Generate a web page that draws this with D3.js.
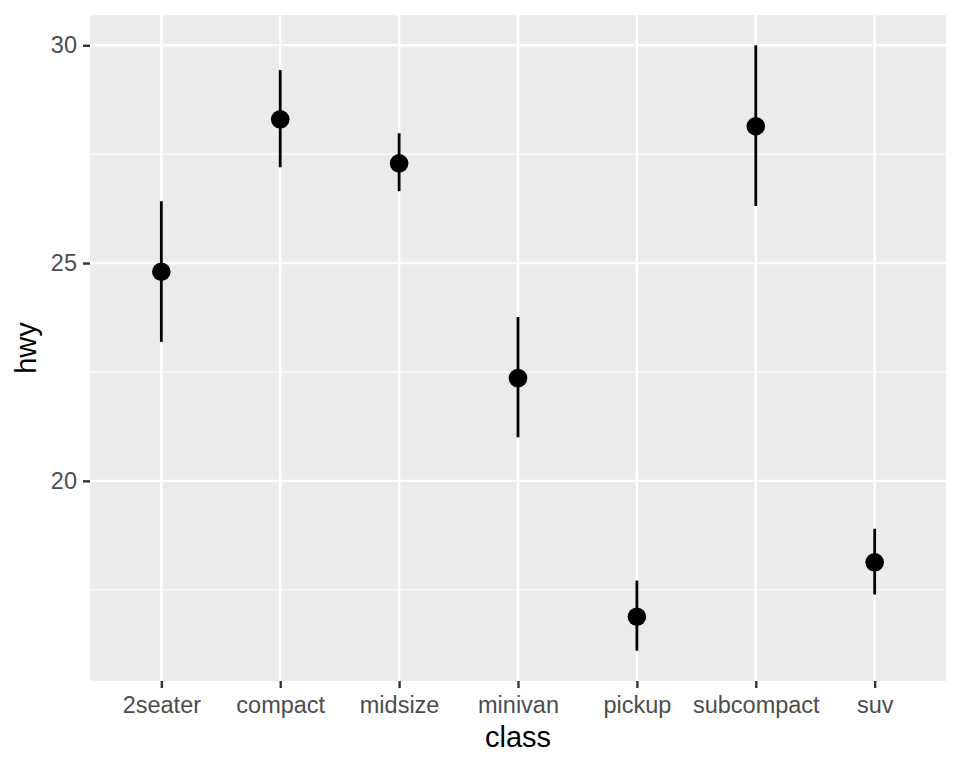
<!DOCTYPE html>
<html><head><meta charset="utf-8">
<script src="https://cdn.jsdelivr.net/npm/d3@7"></script>
<style>body{margin:0;background:#fff}svg{display:block;font-family:"Liberation Sans",Arial,sans-serif}</style>
</head><body>
<script>
const categories = ["2seater","compact","midsize","minivan","pickup","subcompact","suv"];
const means = [24.8, 28.3, 27.29, 22.36, 16.88, 28.14, 18.13];
const lows  = [23.19, 27.2, 26.65, 21.0, 16.1, 26.31, 17.39];
const highs = [26.42, 29.43, 27.98, 23.76, 17.71, 30.0, 18.9];
const majorTicks = [20, 25, 30];
const minorTicks = [17.5, 22.5, 27.5];

const W = 960, H = 768;
const m = {left: 90, right: 946, top: 15, bottom: 681};
const svg = d3.select("body").append("svg").attr("width", W).attr("height", H);

const yMin = d3.min(lows), yMax = d3.max(highs), pad = (yMax - yMin) * 0.05;
const y = d3.scaleLinear().domain([yMin - pad, yMax + pad]).range([m.bottom, m.top]);
const xc = d3.scaleLinear().domain([0.4, categories.length + 0.6]).range([m.left, m.right]);
const x = c => xc(categories.indexOf(c) + 1);

svg.append("rect").attr("x", m.left).attr("y", m.top)
  .attr("width", m.right - m.left).attr("height", m.bottom - m.top).attr("fill", "#EBEBEB");

svg.selectAll(".minor").data(minorTicks).join("line")
  .attr("x1", m.left).attr("x2", m.right).attr("y1", d => y(d)).attr("y2", d => y(d))
  .attr("stroke", "#fff").attr("stroke-width", 1.2);
svg.selectAll(".majory").data(majorTicks).join("line")
  .attr("x1", m.left).attr("x2", m.right).attr("y1", d => y(d)).attr("y2", d => y(d))
  .attr("stroke", "#fff").attr("stroke-width", 2.4);
svg.selectAll(".majorx").data(categories).join("line")
  .attr("x1", d => x(d)).attr("x2", d => x(d)).attr("y1", m.top).attr("y2", m.bottom)
  .attr("stroke", "#fff").attr("stroke-width", 2.4);

// axes
const yAxis = svg.append("g").attr("transform", `translate(${m.left},0)`)
  .call(d3.axisLeft(y).tickValues(majorTicks).tickSize(7).tickPadding(6));
const xAxis = svg.append("g").attr("transform", `translate(0,${m.bottom})`)
  .call(d3.axisBottom(xc).tickValues(d3.range(1, categories.length + 1))
    .tickFormat(i => categories[i - 1]).tickSize(7).tickPadding(8));
[yAxis, xAxis].forEach(g => {
  g.select(".domain").remove();
  g.selectAll(".tick line").attr("stroke", "#333").attr("stroke-width", 2.4);
  g.selectAll(".tick text").attr("fill", "#4D4D4D").style("font-size", "23.5px")
    .style("font-family", '"Liberation Sans",Arial,sans-serif');
});

// pointranges
const data = categories.map((c, i) => ({c, mean: means[i], lo: lows[i], hi: highs[i]}));
svg.selectAll(".range").data(data).join("line")
  .attr("x1", d => x(d.c)).attr("x2", d => x(d.c))
  .attr("y1", d => y(d.lo)).attr("y2", d => y(d.hi))
  .attr("stroke", "#000").attr("stroke-width", 2.8);
svg.selectAll(".pt").data(data).join("circle")
  .attr("cx", d => x(d.c)).attr("cy", d => y(d.mean)).attr("r", 9.3).attr("fill", "#000");

svg.append("text").attr("x", (m.left + m.right) / 2).attr("y", 747)
  .attr("text-anchor", "middle").style("font-size", "29px").text("class");
svg.append("text").attr("transform", `translate(36,${(m.top + m.bottom) / 2}) rotate(-90)`)
  .attr("text-anchor", "middle").style("font-size", "29px").text("hwy");
</script>
</body></html>
